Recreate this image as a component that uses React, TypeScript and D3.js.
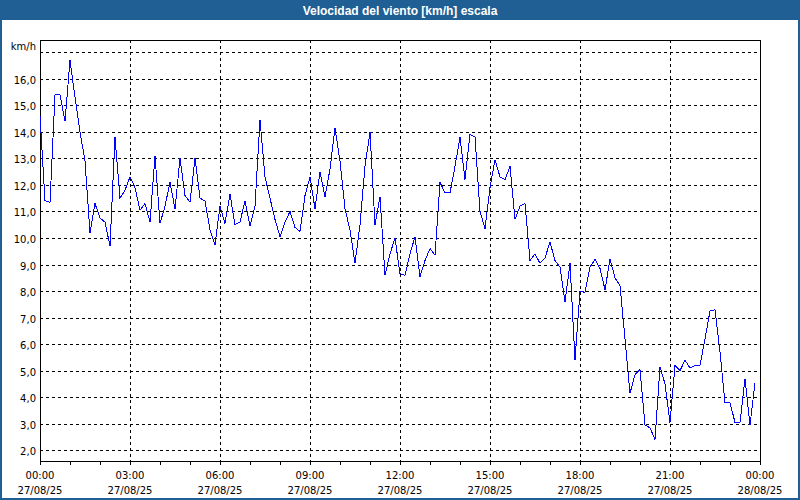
import * as d3 from "d3";
import { useEffect, useRef } from "react";

// wind speed in km/h, one reading every 10 minutes from 27/08/25 00:00
const START = new Date(2025, 7, 27, 0, 0);
const END = new Date(2025, 7, 28, 0, 0);
const STEP_MIN = 10;

const speeds = [
  14.6, 11.4, 11.35, 15.4, 15.4, 14.4, 16.7, 15.3, 14.0, 12.9,
  10.2, 11.3, 10.75, 10.6, 9.7, 13.8, 11.5, 11.8, 12.3, 11.9,
  11.05, 11.3, 10.6, 13.1, 10.55, 11.2, 12.1, 11.1, 13.0, 11.6,
  11.35, 13.0, 11.5, 11.4, 10.3, 9.75, 11.2, 10.55, 11.65, 10.5,
  10.6, 11.4, 10.45, 11.2, 14.45, 12.3, 11.5, 10.7, 10.05, 10.6,
  11.0, 10.4, 10.25, 11.6, 12.3, 11.1, 12.5, 11.55, 12.6, 14.15,
  12.9, 11.1, 10.3, 9.05, 10.5, 12.7, 14.0, 10.5, 11.55, 8.6,
  9.4, 10.0, 8.65, 8.6, 9.4, 10.05, 8.55, 9.15, 9.6, 9.35,
  12.1, 11.7, 11.7, 12.7, 13.8, 12.2, 13.9, 13.8, 11.0, 10.35,
  11.9, 12.95, 12.3, 12.2, 12.7, 10.7, 11.2, 11.3, 9.15, 9.4,
  9.05, 9.25, 9.85, 9.15, 8.9, 7.6, 9.05, 5.4, 8.0, 7.95,
  8.9, 9.2, 8.85, 8.05, 9.2, 8.5, 8.2, 6.2, 4.15, 4.85,
  5.05, 2.95, 2.85, 2.4, 5.15, 4.5, 3.05, 5.2, 5.0, 5.4,
  5.1, 5.2, 5.2, 6.2, 7.25, 7.3, 5.7, 3.8, 3.8, 3.05,
  3.05, 4.7, 2.95, 4.55,
];

const yTicks = [2, 3, 4, 5, 6, 7, 8, 9, 10, 11, 12, 13, 14, 15, 16];
const yGrid = [...yTicks, 17];

const TITLE = "Velocidad del viento [km/h] escala";
const UNIT = "km/h";

const W = 800;
const H = 500;
const M = { left: 40, right: 760, top: 40.3, bottom: 460.7 };
const BLUE = "#1f5f93";
const FONT = "'DejaVu Sans', Verdana, sans-serif";

export default function App() {
  const ref = useRef<SVGSVGElement | null>(null);

  useEffect(() => {
    if (!ref.current) return;
    const svg = d3.select(ref.current);
    svg.selectAll("*").remove();

    const x = d3.scaleTime().domain([START, END]).range([M.left, M.right]);
    const y = d3.scaleLinear().domain([1.609, 17.45]).range([M.bottom, M.top]);
    const px = (v: number) => Math.round(v) + 0.5;

    svg.append("rect").attr("width", W).attr("height", H).attr("fill", "#fff");

    // title bar
    svg.append("rect").attr("x", 0).attr("y", 0).attr("width", W).attr("height", 20).attr("fill", BLUE);
    svg
      .append("text")
      .attr("x", W / 2)
      .attr("y", 15)
      .attr("text-anchor", "middle")
      .attr("fill", "#fff")
      .attr("font-family", "'Liberation Sans', Arial, sans-serif")
      .attr("font-weight", "bold")
      .attr("font-size", 12)
      .text(TITLE);

    // window border
    svg
      .append("rect")
      .attr("x", 1)
      .attr("y", 1)
      .attr("width", W - 2)
      .attr("height", H - 2)
      .attr("fill", "none")
      .attr("stroke", BLUE)
      .attr("stroke-width", 2);

    const g = svg.append("g").attr("shape-rendering", "crispEdges");

    // horizontal grid
    g.selectAll(".hg")
      .data(yGrid)
      .join("line")
      .attr("x1", M.left)
      .attr("x2", M.right)
      .attr("y1", (d) => px(y(d)))
      .attr("y2", (d) => px(y(d)))
      .attr("stroke", "#000")
      .attr("stroke-dasharray", "3,3");

    // vertical grid every 3 hours
    const majors = d3.timeHour.every(3)!.range(START, END).slice(1);
    g.selectAll(".vg")
      .data(majors)
      .join("line")
      .attr("x1", (d) => px(x(d)))
      .attr("x2", (d) => px(x(d)))
      .attr("y1", M.top)
      .attr("y2", M.bottom)
      .attr("stroke", "#000")
      .attr("stroke-dasharray", "3,3");

    // frame
    g.append("rect")
      .attr("x", px(M.left))
      .attr("y", px(M.top))
      .attr("width", Math.round(M.right) - Math.round(M.left))
      .attr("height", Math.round(M.bottom) - Math.round(M.top))
      .attr("fill", "none")
      .attr("stroke", "#000");

    // hourly ticks under the axis
    const hours = d3.timeHour.every(1)!.range(START, d3.timeMinute.offset(END, 1));
    g.selectAll(".tk")
      .data(hours)
      .join("line")
      .attr("x1", (d) => px(x(d)))
      .attr("x2", (d) => px(x(d)))
      .attr("y1", px(M.bottom))
      .attr("y2", px(M.bottom) + 3)
      .attr("stroke", "#000");

    // y labels
    const fmt = (v: number) => d3.format(".1f")(v).replace(".", ",");
    svg
      .selectAll(".yl")
      .data(yTicks)
      .join("text")
      .attr("x", 36)
      .attr("y", (d) => px(y(d)) + 4)
      .attr("text-anchor", "end")
      .attr("font-family", FONT)
      .attr("font-size", 10)
      .attr("fill", "#000")
      .text(fmt);

    svg
      .append("text")
      .attr("x", 36)
      .attr("y", 50)
      .attr("text-anchor", "end")
      .attr("font-family", FONT)
      .attr("font-size", 10)
      .attr("fill", "#000")
      .text(UNIT);

    // x labels
    const xLabels = d3.timeHour.every(3)!.range(START, d3.timeMinute.offset(END, 1));
    const xl = svg
      .selectAll(".xl")
      .data(xLabels)
      .join("g")
      .attr("font-family", FONT)
      .attr("font-size", 10)
      .attr("fill", "#000")
      .attr("text-anchor", "middle");
    xl.append("text")
      .attr("x", (d) => x(d))
      .attr("y", 479)
      .text((d) => d3.timeFormat("%H:%M")(d));
    xl.append("text")
      .attr("x", (d) => x(d))
      .attr("y", 494)
      .text((d) => d3.timeFormat("%d/%m/%y")(d));

    // series
    const line = d3
      .line<number>()
      .x((_, i) => x(d3.timeMinute.offset(START, i * STEP_MIN)))
      .y((d) => y(d));
    svg
      .append("path")
      .datum(speeds)
      .attr("d", line)
      .attr("fill", "none")
      .attr("stroke", "#0000ff")
      .attr("stroke-width", 1)
      .attr("shape-rendering", "crispEdges");
  }, []);

  return (
    <svg
      ref={ref}
      width={W}
      height={H}
      style={{ position: "absolute", left: 0, top: 0, display: "block" }}
    />
  );
}
